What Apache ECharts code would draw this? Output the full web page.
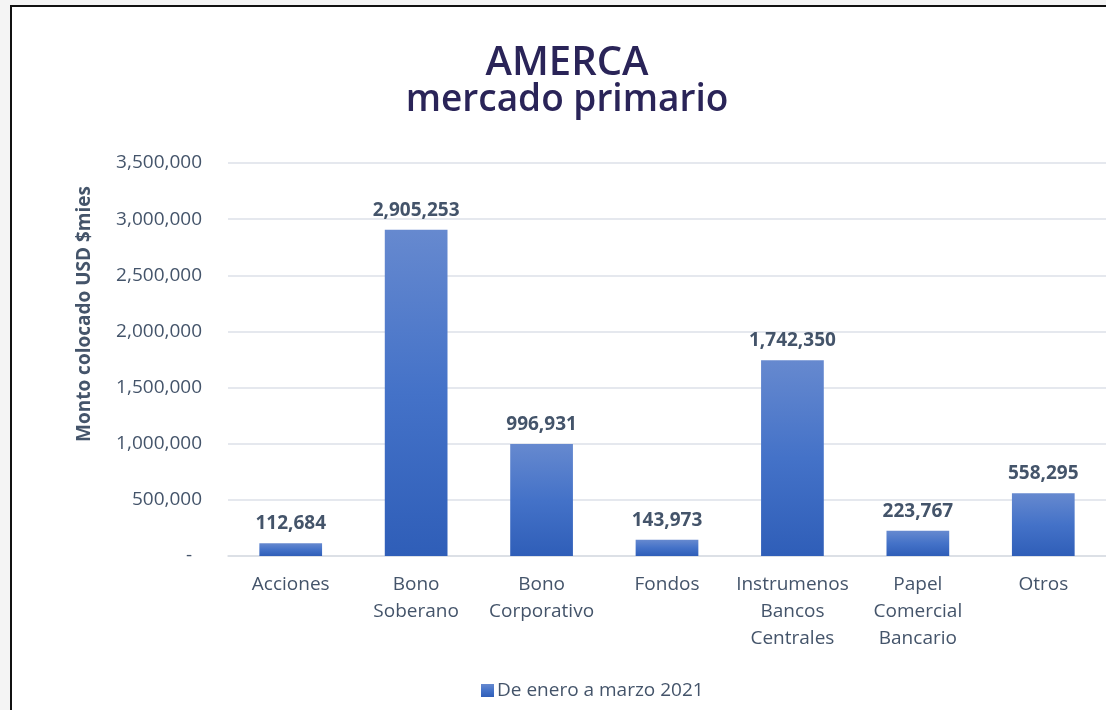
<!DOCTYPE html>
<html lang="es">
  <head>
    <meta charset="UTF-8" />
    <title>AMERCA mercado primario</title>
    <style>
      body { margin: 0; background: #f4f4f4; overflow: hidden; }
      #frame {
        position: absolute; left: 10px; top: 5px; width: 1110px; height: 720px;
        border: 2px solid #111; background: #fff;
      }
      #main { position: absolute; left: 0; top: 0; width: 1106px; height: 710px; }
    </style>
  </head>
  <body>
    <div id="frame"></div>
    <div id="main"></div>
    <script src="https://cdn.jsdelivr.net/npm/echarts@6/dist/echarts.min.js"></script>
    <script>
      const categories = ['Acciones', 'Bono\nSoberano', 'Bono\nCorporativo', 'Fondos',
        'Instrumenos\nBancos\nCentrales', 'Papel\nComercial\nBancario', 'Otros']
      const montos = [112684, 2905253, 996931, 143973, 1742350, 223767, 558295]
      const serieName = 'De enero a marzo 2021'

      const txt = '#44546a'
      const fmt = v => v.toLocaleString('en-US')

      let myChart = echarts.init(document.getElementById('main'))
      let option = {
        backgroundColor: 'transparent',
        textStyle: { fontFamily: 'Open Sans' },
        title: [
          {
            text: 'AMERCA',
            left: 562, top: 39, textAlign: 'center',
            textStyle: { fontFamily: 'Open Sans', fontWeight: 600, fontSize: 40, color: '#2a2458' }
          },
          {
            text: 'mercado primario',
            left: 562, top: 77, textAlign: 'center',
            textStyle: { fontFamily: 'Open Sans', fontWeight: 600, fontSize: 37, color: '#2a2458' }
          }
        ],
        graphic: [
          {
            type: 'text', x: 85, y: 314, rotation: Math.PI / 2,
            style: {
              text: 'Monto colocado USD $mies', fill: txt, align: 'center', verticalAlign: 'middle',
              font: 'bold 19px "Open Sans"'
            }
          }
        ],
        legend: {
          left: 476, top: 676,
          itemWidth: 13, itemHeight: 13, itemGap: 10,
          icon: 'rect',
          textStyle: { color: txt, fontSize: 19, fontFamily: 'Open Sans', padding: [0, 0, 0, -2] },
          data: [serieName]
        },
        grid: { left: 228, right: -2, top: 163, bottom: 154, containLabel: false },
        xAxis: {
          type: 'category',
          data: categories,
          axisLine: { lineStyle: { color: '#d9dde4', width: 1.5 } },
          axisTick: { show: false },
          axisLabel: { color: txt, fontSize: 19, lineHeight: 27, margin: 15, interval: 0 }
        },
        yAxis: {
          type: 'value',
          min: 0, max: 3500000, interval: 500000,
          axisLine: { show: false },
          axisTick: { show: false },
          splitLine: { lineStyle: { color: '#dde1e8', width: 1.5 } },
          axisLabel: {
            color: txt, fontSize: 19, margin: 26,
            formatter: v => (v === 0 ? '-  ' : fmt(v))
          }
        },
        series: [
          {
            name: serieName,
            type: 'bar',
            barWidth: '50%',
            data: montos,
            itemStyle: {
              color: new echarts.graphic.LinearGradient(0, 0, 0, 1, [
                { offset: 0, color: '#6689cf' },
                { offset: 0.5, color: '#4472c8' },
                { offset: 1, color: '#2f5eb8' }
              ])
            },
            label: {
              show: true, position: 'top', distance: 10,
              color: txt, fontSize: 19, fontWeight: 'bold',
              formatter: p => fmt(p.value)
            }
          }
        ]
      }
      myChart.setOption(option)
    </script>
  </body>
</html>
